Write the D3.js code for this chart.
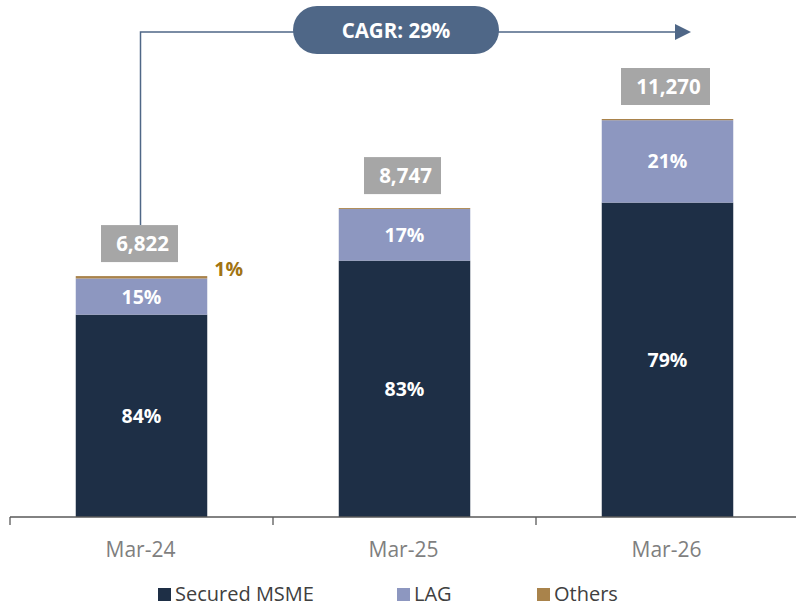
<!DOCTYPE html>
<html>
<head>
<meta charset="utf-8">
<script src="https://cdn.jsdelivr.net/npm/d3@7"></script>
<style>
  body { margin: 0; background: #fff; }
  text { font-family: "Open Sans", sans-serif; }
</style>
</head>
<body>
<svg width="796" height="608"></svg>
<script>
var periods = ['Mar-24', 'Mar-25', 'Mar-26'];
var totals = [6822, 8747, 11270];
// share of each segment, %
var msme = [84, 83, 79];
var lag = [15, 16.7, 20.7];
var others = [1, 0.3, 0.3];
var seriesNames = ['Secured MSME', 'LAG', 'Others'];
var colors = ['#1e2f46', '#8d97c0', '#a9834b'];
var cagr = 'CAGR: 29%';

var svg = d3.select('svg');
var x0 = 10, x1 = 799, baseY = 517;

var x = d3.scaleBand().domain(periods).range([x0, x1]).paddingInner(0).paddingOuter(0);
var y = d3.scaleLinear().domain([0, 11270]).range([baseY, 119]);
var barW = x.bandwidth() * 0.5;

var rows = periods.map(function(p, i) {
  return { period: p, total: totals[i], 'Secured MSME': msme[i], 'LAG': lag[i], 'Others': others[i] };
});
var stack = d3.stack().keys(seriesNames).value(function(d, k) { return d.total * d[k] / 100; });
var stacked = stack(rows);

var g = svg.append('g');
g.selectAll('g.series')
  .data(stacked)
  .enter().append('g')
  .attr('fill', function(d, i) { return colors[i]; })
  .selectAll('rect')
  .data(function(d) { return d; })
  .enter().append('rect')
  .attr('x', function(d) { return x(d.data.period) + (x.bandwidth() - barW) / 2; })
  .attr('width', barW)
  .attr('y', function(d) { return y(d[1]); })
  .attr('height', function(d) { return y(d[0]) - y(d[1]); });

// segment labels (MSME and LAG)
stacked.slice(0, 2).forEach(function(s) {
  g.selectAll(null)
    .data(s)
    .enter().append('text')
    .attr('x', function(d) { return x(d.data.period) + x.bandwidth() / 2; })
    .attr('y', function(d) { return (y(d[0]) + y(d[1])) / 2; })
    .attr('dy', '0.36em')
    .attr('text-anchor', 'middle')
    .attr('fill', '#fff')
    .attr('font-weight', 'bold')
    .attr('font-size', 19.5)
    .text(function(d) { return Math.round(d.data[s.key]) + '%'; });
});

// others label on first bar
g.append('text')
  .attr('x', x(periods[0]) + (x.bandwidth() + barW) / 2 + 7)
  .attr('y', y(totals[0]) - 7)
  .attr('dy', '0.36em')
  .attr('fill', '#a27412')
  .attr('font-weight', 'bold')
  .attr('font-size', 19.5)
  .text(Math.round(others[0]) + '%');

// total boxes
var boxW = [77, 77, 89], boxH = 37;
rows.forEach(function(d, i) {
  var cx = x(d.period) + x.bandwidth() / 2 - 2;
  var by = y(d.total) - 14 - boxH;
  g.append('rect')
    .attr('x', cx - boxW[i] / 2).attr('y', by)
    .attr('width', boxW[i]).attr('height', boxH)
    .attr('fill', '#a6a6a6');
  g.append('text')
    .attr('x', cx + 3).attr('y', by + boxH / 2)
    .attr('dy', '0.36em')
    .attr('text-anchor', 'middle')
    .attr('fill', '#fff')
    .attr('font-weight', 'bold')
    .attr('font-size', 20.5)
    .text(d3.format(',')(d.total));
});

// CAGR arrow
var arrowColor = '#4f6787';
var startX = x(periods[0]) + x.bandwidth() / 2 - 1;
var lineY = 32;
svg.append('path')
  .attr('d', 'M' + startX + ',' + (y(totals[0]) - 14 - boxH) + 'V' + lineY + 'H676')
  .attr('fill', 'none')
  .attr('stroke', arrowColor)
  .attr('stroke-width', 1.5);
svg.append('path')
  .attr('d', 'M675,24L691,32L675,40Z')
  .attr('fill', arrowColor);
svg.append('rect')
  .attr('x', 293).attr('y', 6).attr('width', 206).attr('height', 48)
  .attr('rx', 24).attr('fill', arrowColor);
svg.append('text')
  .attr('x', 396).attr('y', 31).attr('dy', '0.36em')
  .attr('text-anchor', 'middle')
  .attr('fill', '#fff').attr('font-weight', 'bold').attr('font-size', 20.5)
  .text(cagr);

// x axis
var axis = svg.append('g')
  .attr('transform', 'translate(0,' + baseY + ')');
axis.append('line')
  .attr('x1', x0).attr('x2', 796).attr('stroke', '#595959').attr('stroke-width', 1.3);
axis.selectAll('line.tick')
  .data(periods.concat(['end']))
  .enter().append('line')
  .attr('x1', function(d, i) { return x0 + i * x.bandwidth(); })
  .attr('x2', function(d, i) { return x0 + i * x.bandwidth(); })
  .attr('y1', 0).attr('y2', 8)
  .attr('stroke', '#595959').attr('stroke-width', 1.3);
axis.selectAll('text')
  .data(periods)
  .enter().append('text')
  .attr('x', function(d) { return x(d) + x.bandwidth() / 2 - 1; })
  .attr('y', 32)
  .attr('dy', '0.36em')
  .attr('text-anchor', 'middle')
  .attr('fill', '#7f7f7f')
  .attr('font-size', 21)
  .text(function(d) { return d; });

// legend
var legendX = [158, 397, 537];
var legend = svg.append('g').attr('transform', 'translate(0,594)');
seriesNames.forEach(function(n, i) {
  legend.append('rect')
    .attr('x', legendX[i]).attr('y', -6).attr('width', 13).attr('height', 13)
    .attr('fill', colors[i]);
  legend.append('text')
    .attr('x', legendX[i] + 17).attr('y', 0).attr('dy', '0.34em')
    .attr('fill', '#404040').attr('font-size', 20)
    .text(n);
});
</script>
</body>
</html>
